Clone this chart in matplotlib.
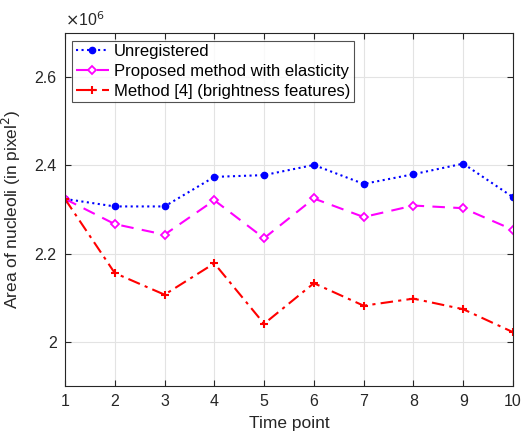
import matplotlib
matplotlib.use("Agg")
import matplotlib.pyplot as plt
from matplotlib.ticker import FuncFormatter

plt.rcParams['font.family'] = ['Liberation Sans', 'DejaVu Sans']

time_points = [1, 2, 3, 4, 5, 6, 7, 8, 9, 10]
unregistered = [2.324, 2.307, 2.307, 2.374, 2.378, 2.401, 2.358, 2.380, 2.404, 2.328]
proposed = [2.324, 2.267, 2.243, 2.321, 2.235, 2.325, 2.283, 2.309, 2.303, 2.254]
method4 = [2.324, 2.156, 2.107, 2.178, 2.041, 2.133, 2.082, 2.098, 2.074, 2.022]
yticks = [2.0, 2.2, 2.4, 2.6]
labels = ["Unregistered", "Proposed method with elasticity", "Method [4] (brightness features)"]

fig = plt.figure(figsize=(5.24, 4.32), dpi=100)
ax = fig.add_axes([0.124, 0.1065, 0.855, 0.817])

ax.plot(time_points, unregistered, color='#0000ff', linestyle=':', linewidth=1.5,
        marker='o', markersize=4.5, label=labels[0])
ax.plot(time_points, proposed, color='#ff00ff', linestyle=(0, (6, 4)), linewidth=1.5,
        marker='D', markersize=4.5, markerfacecolor='white', markeredgewidth=1.3, label=labels[1])
ax.plot(time_points, method4, color='#ff0000', linestyle=(0, (6, 2.5, 1.5, 2.5)), linewidth=1.5,
        marker='+', markersize=6, markeredgewidth=1.5, label=labels[2])

ax.set_xlim(1, 10)
ax.set_ylim(1.9, 2.7)
ax.set_xticks(time_points)
ax.set_yticks(yticks)
ax.yaxis.set_major_formatter(FuncFormatter(lambda v, p: ('%g' % round(v, 2))))
ax.grid(True, color='#e3e3e3', linewidth=0.8)
ax.set_axisbelow(True)
ax.tick_params(direction='in', top=True, right=True, labelsize=11.5, colors='#262626',
               length=4, pad=6)
for s in ax.spines.values():
    s.set_color('#262626')
    s.set_linewidth(0.8)

ax.set_xlabel("Time point", fontsize=12.5, color='#262626', labelpad=5)
ax.set_ylabel("Area of nucleoli (in pixel$^2$)", fontsize=12.5, color='#262626', labelpad=8)
ax.text(0.0, 1.012, r"$\times$10$^6$", transform=ax.transAxes, fontsize=11.5,
        color='#262626', ha='left', va='bottom')

leg = ax.legend(loc='upper left', fontsize=12, frameon=True, fancybox=False,
                edgecolor='#262626', handlelength=2.0, handletextpad=0.3,
                borderpad=0.2, labelspacing=0.3, borderaxespad=0.45)
leg.get_frame().set_linewidth(0.8)

fig.savefig("out.png", dpi=100)
